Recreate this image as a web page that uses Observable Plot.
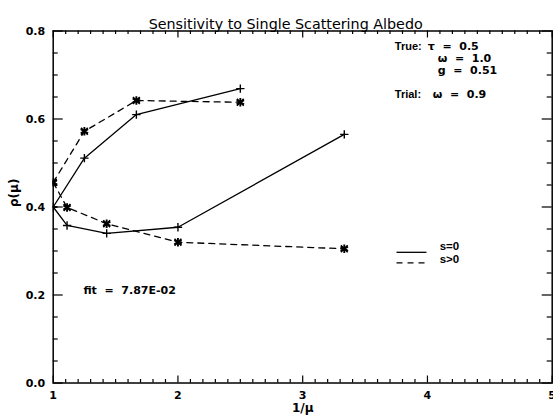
<!DOCTYPE html>
<html><head><meta charset="utf-8">
<script src="https://cdn.jsdelivr.net/npm/d3@7"></script>
<script src="https://cdn.jsdelivr.net/npm/@observablehq/plot@0.6"></script>
<style>body{margin:0;background:#fff} svg text{white-space:pre}</style>
</head><body><div id="chart"></div>
<script>
// ---- data ----
const upperInvMu = [1, 1.25, 1.6667, 2.5];
const lowerInvMu = [1, 1.1111, 1.4286, 2.0, 3.3333];
const solidUpper  = [0.400, 0.511, 0.610, 0.669];
const dashedUpper = [0.456, 0.572, 0.642, 0.638];
const solidLower  = [0.400, 0.358, 0.340, 0.354, 0.565];
const dashedLower = [0.456, 0.399, 0.362, 0.320, 0.305];
const xTicks = [1, 2, 3, 4, 5];
const xTickLabels = ["1", "2", "3", "4", "5"];
const yTicks = [0, 0.2, 0.4, 0.6, 0.8];
const yTickLabels = ["0.0", "0.2", "0.4", "0.6", "0.8"];
const seriesNames = ["s=0", "s>0"];
const titleText = "Sensitivity to Single Scattering Albedo";
const xLabel = "1/μ";
const yLabel = "ρ(μ)";
const noteHeads = [
  {t: "True:", x: 3.738, y: 0.764},
  {t: "Trial:", x: 3.738, y: 0.656}
];
const noteValues = [
  {t: "τ  =  0.5", x: 4.002, y: 0.764},
  {t: "ω  =  1.0", x: 4.082, y: 0.738},
  {t: "g  =  0.51", x: 4.082, y: 0.711},
  {t: "ω  =  0.9", x: 4.042, y: 0.656}
];
const fitNote = [{t: "fit  =  7.87E-02", x: 1.242, y: 0.210}];

// ---- layout ----
const W = 553, H = 418, mL = 52.7, mR = 1.3, mT = 30.5, mB = 35.5;
const FW = W - mL - mR, FH = H - mT - mB;

const rows = (xs, ys, s, b) => xs.map((x, i) => ({x, y: ys[i], s, b}));
const solid = [...rows(upperInvMu, solidUpper, seriesNames[0], "u"), ...rows(lowerInvMu, solidLower, seriesNames[0], "l")];
const dashed = [...rows(upperInvMu, dashedUpper, seriesNames[1], "u"), ...rows(lowerInvMu, dashedLower, seriesNames[1], "l")];

const xMinor = d3.range(10, 51).map(d => d / 10).filter(d => !xTicks.includes(d));
const yMinor = d3.range(0, 17).map(d => d * 0.05).filter((d, i) => i % 4 !== 0);

const legendSolid = [{s: seriesNames[0], x1: 3.752, x2: 3.992, y: 0.297, ty: 0.3105}];
const legendDashed = [{s: seriesNames[1], x1: 3.752, x2: 3.992, y: 0.273, ty: 0.282}];

const ink = "black";
const annFont = "Liberation Sans";
const chart = Plot.plot({
  width: W, height: H,
  marginLeft: mL, marginRight: mR, marginTop: mT, marginBottom: mB,
  style: {fontFamily: "DejaVu Sans", fontSize: "11px", fontWeight: "bold", background: "white", color: ink},
  x: {domain: [1, 5], ticks: xTicks, tickSize: 0, tickPadding: 8,
      tickFormat: d => xTickLabels[xTicks.indexOf(d)], label: null},
  y: {domain: [0, 0.8], ticks: yTicks, tickSize: 0, tickPadding: 8,
      tickFormat: d => yTickLabels[yTicks.findIndex(v => Math.abs(v - d) < 1e-9)], label: null},
  marks: [
    // tick marks (inward, on all four sides)
    Plot.ruleX(xTicks, {x: d => d, insetTop: FH - 7, stroke: ink, strokeWidth: 1.2}),
    Plot.ruleX(xTicks, {x: d => d, insetBottom: FH - 7, stroke: ink, strokeWidth: 1.2}),
    Plot.ruleX(xMinor, {x: d => d, insetTop: FH - 3.5, stroke: ink, strokeWidth: 1.2}),
    Plot.ruleX(xMinor, {x: d => d, insetBottom: FH - 3.5, stroke: ink, strokeWidth: 1.2}),
    Plot.ruleY(yTicks, {y: d => d, insetRight: FW - 10, stroke: ink, strokeWidth: 1.2}),
    Plot.ruleY(yTicks, {y: d => d, insetLeft: FW - 10, stroke: ink, strokeWidth: 1.2}),
    Plot.ruleY(yMinor, {y: d => d, insetRight: FW - 5, stroke: ink, strokeWidth: 1.2}),
    Plot.ruleY(yMinor, {y: d => d, insetLeft: FW - 5, stroke: ink, strokeWidth: 1.2}),
    Plot.frame({stroke: ink, strokeWidth: 1.5}),
    // data
    Plot.line(solid, {x: "x", y: "y", z: "b", stroke: ink, strokeWidth: 1.3, clip: true}),
    Plot.line(dashed, {x: "x", y: "y", z: "b", stroke: ink, strokeWidth: 1.3, strokeDasharray: "6,5", clip: true}),
    Plot.dot(solid, {x: "x", y: "y", symbol: "plus", r: 2.8, stroke: ink, strokeWidth: 1.4, clip: true}),
    Plot.dot(dashed, {x: "x", y: "y", symbol: "asterisk", r: 4, stroke: ink, strokeWidth: 1.9, clip: true}),
    Plot.dot(dashed, {x: "x", y: "y", symbol: "times", r: 3.2, stroke: ink, strokeWidth: 1.6, clip: true}),
    // legend
    Plot.link(legendSolid, {x1: "x1", x2: "x2", y1: "y", y2: "y", stroke: ink, strokeWidth: 1.3}),
    Plot.link(legendDashed, {x1: "x1", x2: "x2", y1: "y", y2: "y", stroke: ink, strokeWidth: 1.3, strokeDasharray: "6,5"}),
    Plot.text([...legendSolid, ...legendDashed], {x: 4.098, y: "ty", text: "s", textAnchor: "start", fontSize: 11.5, fontFamily: annFont, fontWeight: "bold"}),
    // annotations
    Plot.text(noteHeads, {x: "x", y: "y", text: "t", textAnchor: "start", fontSize: 11, fontFamily: annFont, fontWeight: "bold"}),
    Plot.text(noteValues, {x: "x", y: "y", text: "t", textAnchor: "start", fontSize: 11, fontWeight: "bold"}),
    Plot.text(fitNote, {x: "x", y: "y", text: "t", textAnchor: "start", fontSize: 11, fontWeight: "bold"}),
    // title and axis labels
    Plot.text([titleText], {frameAnchor: "top", dx: -17, dy: -12.5, text: d => d, fontSize: 14.3, fontWeight: "normal"}),
    Plot.text([xLabel], {frameAnchor: "bottom", dy: 28.5, text: d => d, fontSize: 12, fontWeight: "bold"}),
    Plot.text([yLabel], {frameAnchor: "left", dx: -38.7, rotate: -90, text: d => d, fontSize: 12, fontWeight: "bold"})
  ]
});
document.getElementById("chart").appendChild(chart);
</script>
</body></html>
